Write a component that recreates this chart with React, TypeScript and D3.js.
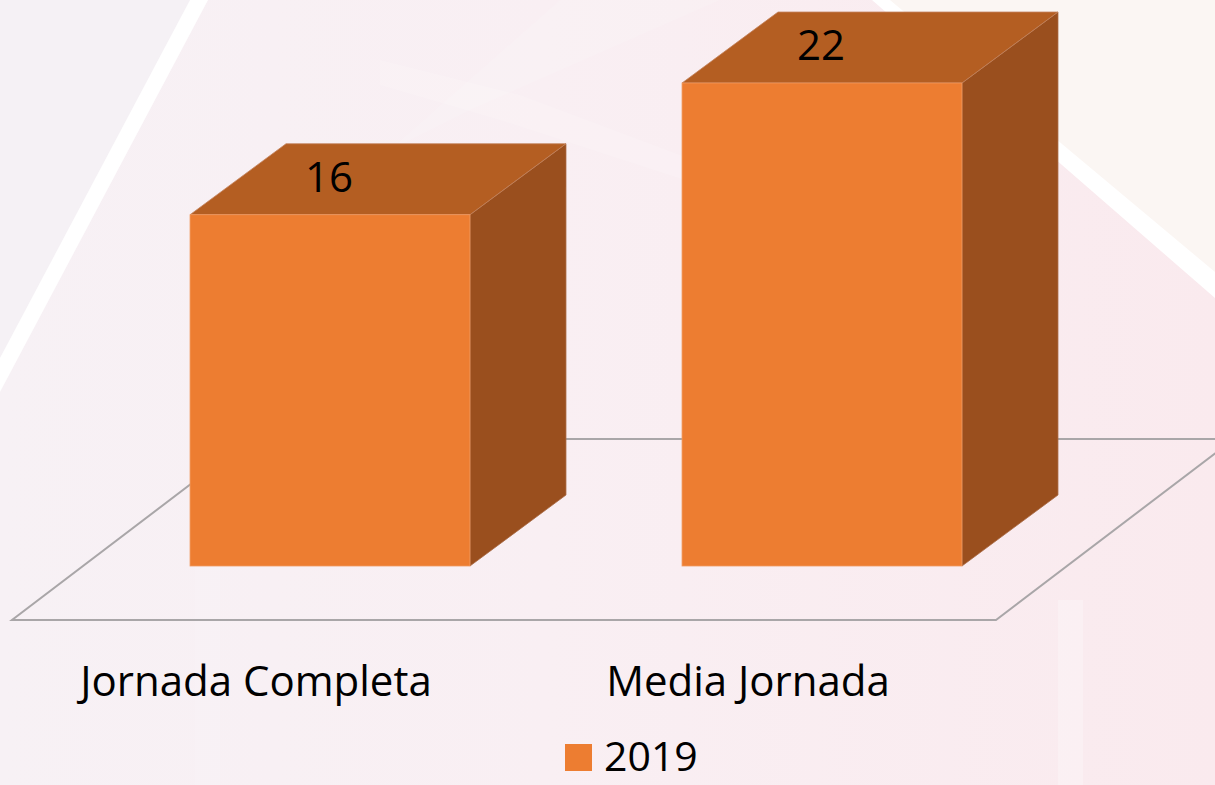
import React from "react";
import * as d3 from "d3";

const categories: string[] = ["Jornada Completa", "Media Jornada"];
const values2019: number[] = [16, 22];
const seriesName = "2019";

const W = 1215;
const H = 785;

export default function App() {
  const x = d3
    .scaleBand<string>()
    .domain(categories)
    .range([84, 1068])
    .paddingInner(0.431)
    .paddingOuter(0.2155);
  const y = d3.scaleLinear().domain([0, 22]).range([566, 83]);

  // bar depth offset and floor geometry
  const bdx = 96;
  const bdy = 71;
  const y0 = y(0);
  const floorFront = y0 + 54;
  const fdx = 238;
  const fdy = 181;
  const fLeft = x.range()[0] - 72;
  const fRight = x.range()[1] - 72;

  const font = "'Open Sans', 'Noto Sans', sans-serif";
  const line = d3.line<[number, number]>();

  return (
    <svg
      width={W}
      height={H}
      style={{ position: "absolute", left: 0, top: 0 }}
    >
      <defs>
        <linearGradient id="bg" x1="0" y1="0" x2="1" y2="0">
          <stop offset="0" stopColor="#f7f1f5" />
          <stop offset="0.45" stopColor="#f9eff3" />
          <stop offset="1" stopColor="#faeaee" />
        </linearGradient>
      </defs>
      <rect x={0} y={0} width={W} height={H} fill="url(#bg)" />
      {/* decorative background shapes */}
      <polygon points="0,0 192,0 0,365" fill="#f5f1f5" />
      <polygon points="1215,0 880,0 1215,285" fill="#fbf6f3" />
      <polygon
        points="560,0 720,0 470,110 390,150"
        fill="#ffffff"
        opacity={0.12}
      />
      <polygon
        points="380,60 520,95 720,170 700,185 500,120 380,85"
        fill="#ffffff"
        opacity={0.15}
      />
      <polygon points="1058,600 1083,600 1083,785 1058,785" fill="#ffffff" opacity={0.25} />
      <polygon points="195,440 220,440 220,785 195,785" fill="#ffffff" opacity={0.12} />
      <polygon points="190,0 208,0 0,392 0,358" fill="#ffffff" />
      <polygon points="872,0 890,0 1215,272 1215,298" fill="#ffffff" />

      {/* floor */}
      <path
        d={
          line([
            [fLeft, floorFront],
            [fRight, floorFront],
            [fRight + fdx, floorFront - fdy],
            [fLeft + fdx, floorFront - fdy],
          ]) + "Z"
        }
        fill="none"
        stroke="#a9a6a8"
        strokeWidth={2}
      />

      {/* bars */}
      {categories.map((c, i) => {
        const v = values2019[i];
        const x0 = x(c)!;
        const x1 = x0 + x.bandwidth();
        const yt = y(v);
        const top = line([
          [x0, yt],
          [x0 + bdx, yt - bdy],
          [x1 + bdx, yt - bdy],
          [x1, yt],
        ]) + "Z";
        const side = line([
          [x1, yt],
          [x1 + bdx, yt - bdy],
          [x1 + bdx, y0 - bdy],
          [x1, y0],
        ]) + "Z";
        return (
          <g key={c}>
            <path d={side} fill="#9a4f1e" stroke="#a86a44" strokeWidth={0.8} />
            <path d={top} fill="#b45e22" stroke="#c48460" strokeWidth={0.8} />
            <rect
              x={x0}
              y={yt}
              width={x1 - x0}
              height={y0 - yt}
              fill="#ed7d31"
              stroke="#f09a60"
              strokeWidth={0.8}
            />
            <text
              x={x0 + x.bandwidth() / 2 - 1}
              y={yt - 23}
              textAnchor="middle"
              fontFamily={font}
              fontSize={42}
              fill="#000"
            >
              {v}
            </text>
            <text
              x={x0 + x.bandwidth() / 2 - 74}
              y={696}
              textAnchor="middle"
              fontFamily={font}
              fontSize={42}
              fill="#000"
            >
              {c}
            </text>
          </g>
        );
      })}

      {/* legend */}
      <rect x={565} y={744} width={27} height={27} fill="#ed7d31" />
      <text x={604} y={771} fontFamily={font} fontSize={41} fill="#000">
        {seriesName}
      </text>
    </svg>
  );
}
